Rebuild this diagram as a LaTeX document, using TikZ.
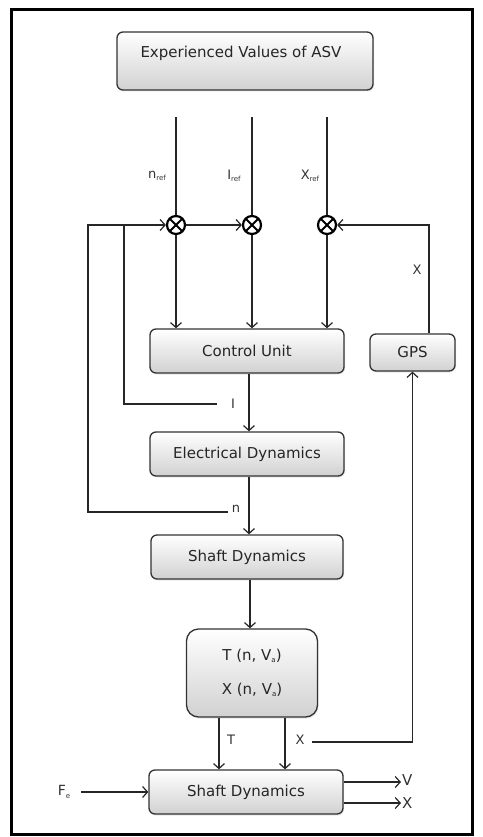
\documentclass[tikz,border=0pt]{standalone}
\usepackage{fontspec}
\setmainfont{DejaVu Sans}
\usetikzlibrary{arrows.meta,shadows}
\newcommand{\sbs}[1]{\raisebox{-2.5pt}{\fontsize{7}{7}\selectfont #1}}
\begin{document}
\begin{tikzpicture}[x=1pt,y=-1pt,
  blk/.style={draw=black!80, line width=1.3pt, rounded corners=6pt,
    top color=white, bottom color=black!18, inner sep=0pt,
    text=black!85, font=\fontsize{15}{18}\selectfont,
    drop shadow={opacity=0.18, shadow xshift=1pt, shadow yshift=-1.5pt}},
  txt/.style={text=black!85, font=\fontsize{15}{18}\selectfont, inner sep=0pt},
  lab/.style={text=black!80, font=\fontsize{13}{15}\selectfont, inner sep=0pt},
  sumnode/.style={circle, draw=black, line width=2.2pt, minimum size=18pt, inner sep=0pt,
    path picture={\draw[line width=2pt]
      (path picture bounding box.north west) -- (path picture bounding box.south east)
      (path picture bounding box.north east) -- (path picture bounding box.south west);}},
  ln/.style={line width=1.4pt, draw=black!85},
  arr/.style={ln, -{Straight Barb[length=5pt,width=11pt,line width=1.2pt]}}
]
\useasboundingbox (0,0) rectangle (482,837);
% outer frame
\draw[line width=3pt] (11,10) rectangle (472,834);

% blocks
\node[blk, minimum width=256, minimum height=58] (exp) at (245,61) {};
\node[txt] at (241,53) {Experienced Values of ASV};
\node[blk, minimum width=194, minimum height=44] (cu) at (247,351) {Control Unit};
\node[blk, minimum width=85, minimum height=37] (gps) at (412.5,352.5) {GPS};
\node[blk, minimum width=194, minimum height=44] (ed) at (247,454) {Electrical Dynamics};
\node[blk, minimum width=192, minimum height=44] (sd1) at (247,557) {Shaft Dynamics};
\node[blk, rounded corners=12pt, minimum width=131, minimum height=88, align=center] (tx) at (252,673)
  {T (n, V\sbs{a})\\[16pt]X (n, V\sbs{a})};
\node[blk, minimum width=194, minimum height=44] (sd2) at (246,792) {Shaft Dynamics};

% summing junctions
\node[sumnode] (s1) at (176,225) {};
\node[sumnode] (s2) at (252,225) {};
\node[sumnode] (s3) at (327,225) {};

% reference inputs
\coordinate (r1) at (176,117);
\coordinate (r2) at (252,117);
\coordinate (r3) at (327,117);
\draw[ln] (r1) -- (s1);
\draw[ln] (r2) -- (s2);
\draw[ln] (r3) -- (s3);
\node[lab] (nref) at (157,176) {n\sbs{ref}};
\node[lab] (iref) at (234,176) {I\sbs{ref}};
\node[lab] (xref) at (310,176) {X\sbs{ref}};

% junctions into the control unit
\draw[arr] (s1) -- (s1 |- cu.north);
\draw[arr] (s2) -- (s2 |- cu.north);
\draw[arr] (s3) -- (s3 |- cu.north);
\draw[arr] (s1) -- (s2);

% forward chain
\draw[arr] ([xshift=2pt]cu.south) -- ([xshift=2pt]cu.south |- ed.north);
\draw[arr] ([xshift=2pt]ed.south) -- ([xshift=2pt]ed.south |- sd1.north);
\draw[arr] ([xshift=3pt]sd1.south) -- ([xshift=3pt]sd1.south |- tx.north);

% current feedback
\node[lab] (ilab) at (233,404) {I};
\coordinate (iend) at (217,404);
\coordinate (jI) at (124,225);
\draw[ln] (iend) -| (jI);

% speed feedback
\node[lab] (nlab) at (236,509) {n};
\coordinate (nend) at (228,512);
\coordinate (cn) at (88,225);
\draw[arr] (nend) -| (cn) -- (s1);

% position feedback through GPS
\draw[arr] ([xshift=16.5pt]gps.north) |- (s3);
\node[lab] (xg) at (417,270) {X};

% thrust and position into the second shaft block
\draw[arr] ([xshift=-33pt]tx.south) -- ([xshift=-33pt]tx.south |- sd2.north);
\draw[arr] ([xshift=33pt]tx.south) -- ([xshift=33pt]tx.south |- sd2.north);
\node[lab] (tlab) at (231,740) {T};
\node[lab] (xlab) at (300,740) {X};
\coordinate (xend) at (312,742);
\draw[arr] (xend) -| (gps.south);

% external input and outputs
\node[lab, font=\fontsize{14}{16}\selectfont] (fe) at (64,792) {F\sbs{e}};
\coordinate (fst) at (81,792);
\draw[arr] (fst) -- (sd2.west);
\node[lab, font=\fontsize{15}{17}\selectfont, anchor=west] (vout) at (402,780) {V};
\node[lab, font=\fontsize{15}{17}\selectfont, anchor=west] (xout) at (402,803) {X};
\draw[arr] (sd2.east |- 0,782) -- (401,782);
\draw[arr] (sd2.east |- 0,803) -- (401,803);
\end{tikzpicture}
\end{document}
